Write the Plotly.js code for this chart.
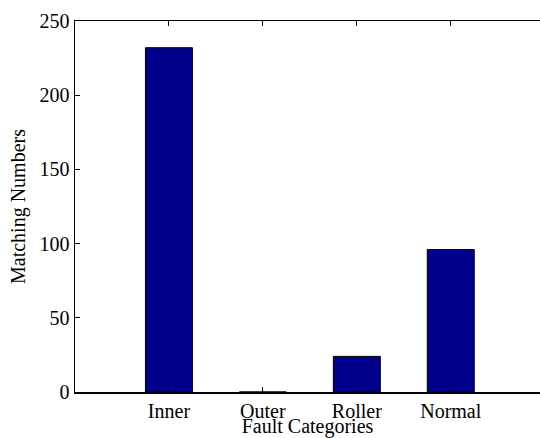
<!DOCTYPE html>
<html>
<head>
<meta charset="utf-8">
<script src="https://cdn.plot.ly/plotly-3.0.1.min.js"></script>
<style>
html,body{margin:0;padding:0;overflow:hidden;background:#fff;width:540px;height:438px;}
#chart{position:fixed;left:0;top:0;width:540px;height:438px;overflow:hidden;}
</style>
</head>
<body>
<div id="chart"></div>
<script>
const categories = ["Inner", "Outer", "Roller", "Normal"];
const matchingNumbers = [232, 0, 24, 96];
const yTicks = [0, 50, 100, 150, 200, 250];

const positions = categories.map((c, i) => i);
const font = {family: "Liberation Serif, Times New Roman, serif", size: 20, color: "#000"};

Plotly.newPlot("chart", [{
  type: "bar",
  x: positions,
  y: matchingNumbers,
  width: 0.5,
  marker: {color: "#00008c", line: {color: "#000", width: 1}},
  hoverinfo: "skip"
}, {
  type: "scatter",
  mode: "markers",
  x: positions,
  y: matchingNumbers,
  xaxis: "x2",
  marker: {opacity: 0},
  hoverinfo: "skip"
}], {
  width: 540,
  height: 438,
  margin: {l: 75, r: 0, t: 21, b: 46, pad: 0},
  paper_bgcolor: "#fff",
  plot_bgcolor: "#fff",
  font: font,
  showlegend: false,
  xaxis: {
    automargin: false,
    range: [-1, 3.95],
    tickvals: positions,
    ticktext: categories,
    showline: true, linecolor: "#000", linewidth: 1.5,
    ticks: "inside", ticklen: 5, tickcolor: "#000", tickwidth: 1,
    showgrid: false, zeroline: false,
    tickfont: font,
    title: {text: "Fault Categories", font: font, standoff: 9}
  },
  xaxis2: {
    automargin: false,
    overlaying: "x",
    side: "top",
    range: [-1, 3.95],
    tickvals: positions,
    showline: true, linecolor: "#000", linewidth: 1.5,
    ticks: "inside", ticklen: 5, tickcolor: "#000", tickwidth: 1,
    showticklabels: false,
    showgrid: false, zeroline: false
  },
  yaxis: {
    automargin: false,
    range: [0, 250],
    tickvals: yTicks,
    showline: true, linecolor: "#000", linewidth: 1.5,
    ticks: "inside", ticklen: 5, tickcolor: "#000", tickwidth: 1,
    showgrid: false, zeroline: false,
    tickfont: font,
    title: {text: "Matching Numbers", font: font}
  }
}, {staticPlot: true, displayModeBar: false});
</script>
</body>
</html>
